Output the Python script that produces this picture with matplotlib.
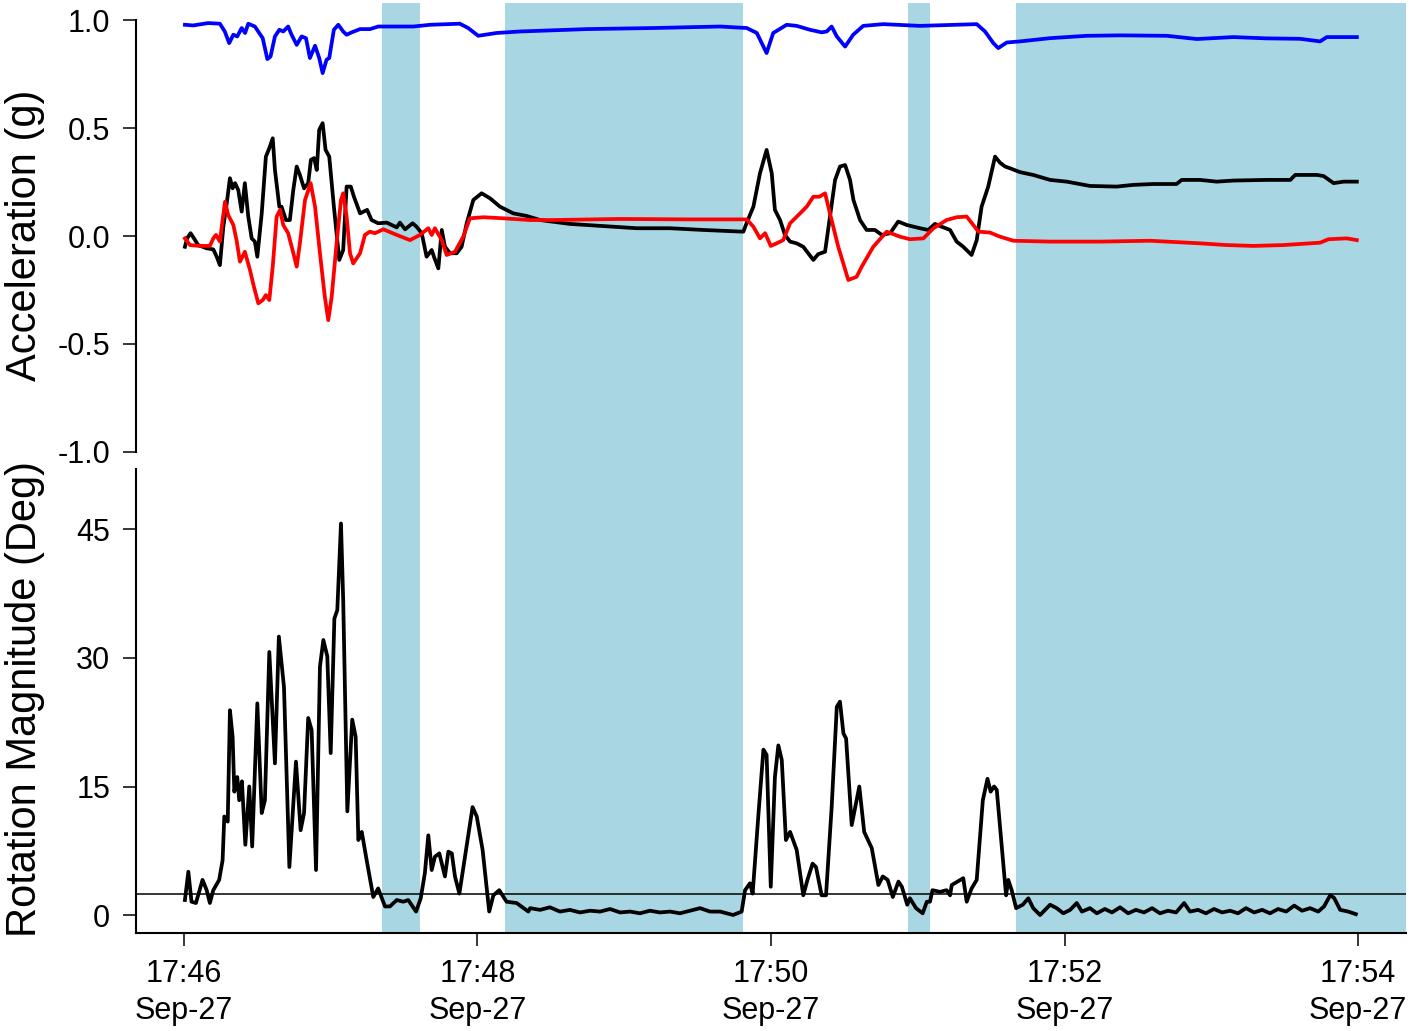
import matplotlib
matplotlib.use("Agg")
import matplotlib.pyplot as plt

plt.rcParams['font.family'] = ['Liberation Sans', 'DejaVu Sans']

# ---- data (time in seconds after 17:46:00, Sep-27) ----
blue_t = [0.4, 3.8, 9.9, 14.7, 16.7, 18.5, 20.2, 21.8, 23.6, 25.0, 26.3, 29.0, 32.2, 34.1, 35.4, 37.2,
          39.0, 40.6, 42.6, 44.0, 46.1, 48.1, 49.9, 51.5, 53.6, 55.3, 56.7, 58.3, 59.4, 61.3, 63.1,
          65.1, 66.5, 68.6, 72.0, 76.1, 79.4, 93.8, 100.6, 112.8, 116.2, 120.3, 127.8, 137.4, 164.6,
          191.9, 219.2, 230.1, 234.2, 238.2, 240.9, 246.4, 250.5, 255.9, 260.7, 262.8, 264.8, 266.9,
          270.3, 273.6, 277.7, 285.9, 300.9, 324.1, 327.5, 330.9, 332.9, 336.4, 341.8, 354.1, 369.1,
          382.7, 401.8, 414.1, 429.0, 442.7, 456.3, 464.5, 467.2, 479.5]
blue_v = [0.979, 0.976, 0.987, 0.984, 0.948, 0.894, 0.933, 0.925, 0.964, 0.941, 0.984, 0.971, 0.917,
          0.820, 0.832, 0.925, 0.956, 0.948, 0.971, 0.933, 0.886, 0.925, 0.917, 0.825, 0.882, 0.825,
          0.755, 0.817, 0.825, 0.956, 0.979, 0.948, 0.933, 0.944, 0.959, 0.959, 0.971, 0.971, 0.979,
          0.984, 0.964, 0.928, 0.941, 0.948, 0.959, 0.964, 0.971, 0.964, 0.941, 0.848, 0.941, 0.979,
          0.974, 0.956, 0.944, 0.948, 0.971, 0.925, 0.878, 0.933, 0.974, 0.982, 0.974, 0.982, 0.948,
          0.894, 0.871, 0.897, 0.902, 0.917, 0.928, 0.930, 0.928, 0.913, 0.922, 0.916, 0.914, 0.902,
          0.922, 0.922]

black_t = [0.4, 1.3, 2.7, 4.1, 5.8, 9.3, 12.0, 13.4, 14.7, 16.1, 17.5, 18.8, 19.9, 20.9, 22.2, 23.6,
           24.9, 26.3, 27.7, 29.0, 30.0, 31.8, 33.5, 34.9, 36.3, 37.2, 39.0, 39.9, 41.7, 43.3, 44.7,
           46.1, 47.4, 49.1, 50.8, 51.9, 53.2, 54.3, 55.3, 56.7, 57.9, 59.4, 61.3, 63.5, 65.1, 66.5,
           68.2, 69.5, 72.0, 74.9, 76.7, 79.4, 82.9, 87.0, 88.3, 90.4, 93.5, 95.1, 97.2, 99.2, 101.3,
           102.2, 104.0, 105.4, 106.7, 108.8, 111.5, 113.5, 115.6, 118.3, 121.7, 125.1, 129.2, 134.6,
           140.1, 145.6, 157.8, 171.4, 185.1, 198.7, 212.3, 228.7, 230.1, 232.8, 235.5, 238.2, 240.3,
           241.6, 243.7, 245.7, 247.8, 250.5, 253.2, 255.2, 257.3, 259.3, 262.1, 264.1, 266.2, 268.2,
           270.3, 272.3, 273.7, 276.4, 279.1, 282.5, 285.3, 288.7, 292.0, 295.5, 300.9, 304.3, 307.0,
           309.8, 313.2, 315.9, 318.6, 322.0, 324.1, 326.1, 328.8, 331.6, 333.6, 335.7, 337.7, 341.8,
           347.2, 354.1, 360.9, 370.4, 381.3, 388.1, 396.3, 405.8, 407.9, 415.4, 422.2, 429.0, 442.7,
           452.3, 454.3, 463.2, 465.9, 470.0, 474.1, 479.5]
black_v = [-0.050, -0.011, 0.013, -0.011, -0.042, -0.057, -0.062, -0.096, -0.135, 0.043, 0.152, 0.268,
           0.221, 0.245, 0.213, 0.113, 0.245, 0.090, -0.011, -0.026, -0.096, 0.105, 0.368, 0.407,
           0.453, 0.306, 0.136, 0.136, 0.074, 0.074, 0.213, 0.322, 0.283, 0.221, 0.245, 0.353, 0.361,
           0.306, 0.492, 0.523, 0.399, 0.368, 0.136, -0.111, -0.065, 0.229, 0.229, 0.182, 0.105, 0.121,
           0.074, 0.059, 0.062, 0.040, 0.062, 0.031, 0.059, 0.043, 0.013, -0.096, -0.065, -0.096,
           -0.150, 0.028, -0.050, -0.080, -0.080, -0.050, 0.059, 0.167, 0.198, 0.175, 0.136, 0.105,
           0.093, 0.074, 0.056, 0.046, 0.036, 0.036, 0.028, 0.020, 0.062, 0.136, 0.291, 0.399, 0.291,
           0.121, 0.074, 0.005, -0.026, -0.034, -0.050, -0.080, -0.111, -0.084, -0.073, 0.090, 0.260,
           0.322, 0.329, 0.260, 0.167, 0.074, 0.028, 0.028, 0.005, 0.013, 0.067, 0.051, 0.036, 0.028,
           0.056, 0.043, 0.028, -0.026, -0.050, -0.088, -0.019, 0.136, 0.229, 0.368, 0.340, 0.322,
           0.314, 0.296, 0.283, 0.260, 0.252, 0.232, 0.229, 0.237, 0.241, 0.241, 0.260, 0.260, 0.252,
           0.257, 0.260, 0.260, 0.283, 0.283, 0.278, 0.245, 0.252, 0.252]

red_t = [0.4, 2.5, 6.5, 10.6, 12.0, 13.1, 14.7, 15.8, 16.8, 18.1, 20.2, 21.5, 22.9, 24.9, 27.0, 28.6,
         30.4, 32.2, 33.5, 34.9, 36.3, 37.9, 39.3, 40.6, 42.6, 44.4, 46.1, 47.4, 49.5, 51.8, 53.6,
         55.6, 57.6, 59.0, 60.4, 62.4, 64.2, 65.1, 66.5, 67.9, 69.2, 72.0, 74.0, 76.0, 78.1, 81.5,
         87.0, 92.4, 96.5, 99.9, 101.3, 102.6, 105.4, 107.4, 110.8, 114.2, 116.9, 122.4, 130.5, 141.5,
         151.0, 178.3, 205.5, 230.1, 232.8, 235.5, 237.6, 239.9, 242.3, 245.0, 247.8, 251.9, 254.6,
         257.3, 259.8, 262.1, 264.1, 267.5, 271.6, 275.0, 277.1, 281.8, 287.3, 292.7, 296.8, 302.3,
         306.4, 311.8, 315.9, 320.0, 322.7, 324.8, 329.5, 333.6, 339.1, 354.1, 374.5, 395.0, 415.4,
         426.3, 437.2, 449.5, 464.5, 467.9, 475.4, 479.5]
red_v = [-0.011, -0.042, -0.046, -0.046, -0.011, 0.005, -0.026, 0.074, 0.159, 0.097, 0.051, -0.019,
         -0.119, -0.073, -0.158, -0.235, -0.312, -0.297, -0.274, -0.297, -0.142, 0.090, 0.121, 0.051,
         0.013, -0.065, -0.142, -0.034, 0.167, 0.245, 0.136, -0.080, -0.282, -0.390, -0.282, -0.034,
         0.167, 0.198, 0.090, -0.080, -0.127, -0.080, 0.005, 0.020, 0.013, 0.031, 0.005, -0.019,
         0.005, 0.036, 0.005, 0.036, -0.019, -0.088, -0.073, -0.003, 0.082, 0.087, 0.082, 0.074,
         0.074, 0.079, 0.077, 0.077, 0.043, -0.011, 0.013, -0.046, -0.034, -0.019, 0.059, 0.105,
         0.136, 0.182, 0.182, 0.198, 0.105, -0.050, -0.204, -0.189, -0.142, -0.050, 0.020, -0.003,
         -0.015, -0.011, 0.036, 0.074, 0.087, 0.090, 0.051, 0.020, 0.016, -0.003, -0.022, -0.026,
         -0.026, -0.022, -0.034, -0.042, -0.046, -0.042, -0.031, -0.015, -0.011, -0.019]

rot_t = [0.4, 1.8, 3.1, 4.9, 7.6, 9.3, 10.6, 12.0, 14.4, 15.8, 16.5, 17.9, 18.8, 19.9, 20.6, 21.8,
         22.6, 23.7, 25.1, 26.7, 27.9, 30.0, 31.8, 33.1, 34.9, 37.2, 38.8, 40.9, 43.1, 45.8, 47.7,
         49.1, 50.8, 52.2, 54.0, 55.6, 57.0, 58.6, 60.0, 61.5, 62.7, 64.2, 65.1, 66.8, 68.8, 70.2,
         71.3, 72.7, 74.7, 77.4, 79.4, 82.2, 84.2, 87.0, 89.7, 91.7, 94.9, 96.8, 98.5, 99.9, 101.3,
         102.6, 104.4, 106.7, 108.1, 109.5, 110.8, 112.6, 114.9, 118.0, 119.7, 122.1, 124.8, 126.5,
         128.9, 131.9, 136.0, 140.8, 141.5, 145.6, 149.6, 153.7, 157.8, 161.9, 166.0, 170.1, 174.2,
         178.3, 182.4, 186.4, 190.5, 194.6, 198.7, 202.8, 206.9, 211.0, 215.1, 219.2, 224.5, 228.0,
         229.4, 231.4, 232.5, 234.8, 236.9, 238.2, 239.9, 241.6, 243.0, 244.4, 246.1, 247.8, 250.5,
         253.2, 254.9, 257.0, 258.4, 260.7, 262.5, 264.8, 266.9, 268.2, 269.6, 270.7, 273.0, 276.1,
         278.1, 281.2, 283.9, 285.7, 287.7, 289.8, 292.1, 293.5, 295.7, 296.8, 299.3, 302.0, 303.7,
         305.0, 306.0, 309.1, 311.8, 313.2, 313.9, 318.6, 320.0, 322.0, 324.1, 326.6, 328.5, 329.8,
         331.2, 332.3, 336.1, 337.0, 338.4, 340.2, 342.9, 345.2, 347.2, 350.0, 354.1, 356.8, 359.5,
         362.3, 365.0, 367.1, 370.4, 373.2, 376.5, 379.4, 382.7, 386.0, 389.2, 392.5, 395.8, 399.0,
         402.3, 405.6, 408.9, 411.3, 414.6, 417.8, 421.1, 424.4, 427.7, 430.9, 434.2, 437.5, 440.8,
         444.0, 447.3, 450.6, 453.9, 457.1, 460.4, 463.7, 466.1, 468.6, 470.2, 472.7, 476.0, 479.1]
rot_v = [1.75, 5.05, 1.55, 1.4, 4.1, 2.9, 1.4, 2.9, 4.1, 6.4, 11.5, 10.9, 23.9, 20.8, 14.4, 16.1,
         13.4, 15.6, 8.2, 15.0, 8.0, 24.7, 11.9, 13.4, 30.7, 17.7, 32.5, 26.6, 5.6, 17.9, 9.9, 11.9,
         23.0, 21.6, 5.25, 29.0, 32.1, 30.2, 18.9, 34.6, 35.6, 45.7, 36.8, 12.1, 22.8, 20.8, 8.75,
         9.7, 6.4, 2.1, 3.1, 1.0, 1.0, 1.75, 1.55, 1.75, 0.4, 1.95, 4.9, 9.3, 5.25, 6.8, 7.2, 4.5,
         7.4, 7.2, 4.5, 2.5, 6.8, 12.6, 11.5, 7.6, 0.4, 2.3, 2.9, 1.55, 1.4, 0.4, 0.8, 0.6, 0.9, 0.4,
         0.6, 0.3, 0.5, 0.4, 0.7, 0.3, 0.4, 0.2, 0.5, 0.3, 0.4, 0.2, 0.5, 0.8, 0.4, 0.4, 0.0, 0.4,
         2.9, 3.7, 2.5, 11.5, 19.3, 18.7, 3.3, 16.1, 19.8, 18.1, 8.75, 9.7, 7.6, 2.3, 4.1, 6.0, 5.6,
         2.3, 2.3, 12.6, 24.3, 24.9, 21.2, 20.6, 10.5, 15.0, 9.7, 7.8, 3.5, 4.5, 4.1, 2.1, 3.9, 3.3,
         1.2, 1.95, 0.8, 0.2, 1.55, 1.55, 2.9, 2.7, 2.9, 2.3, 3.5, 4.3, 1.55, 3.1, 4.1, 13.4, 15.9,
         14.4, 15.0, 14.6, 2.3, 4.1, 2.9, 0.8, 1.2, 1.95, 0.8, 0.0, 1.2, 0.8, 0.2, 0.6, 1.4, 0.4,
         0.8, 0.2, 0.7, 0.3, 0.9, 0.2, 0.6, 0.3, 0.8, 0.2, 0.5, 0.3, 1.4, 0.4, 0.6, 0.2, 0.7, 0.3,
         0.5, 0.2, 0.8, 0.3, 0.6, 0.2, 0.7, 0.4, 1.1, 0.5, 0.8, 0.4, 1.0, 2.3, 2.0, 0.6, 0.4, 0.1]

rot_threshold = 2.5
shade_start = [81.0, 131.2, 296.0, 340.2]
shade_end = [96.5, 228.6, 305.0, 499.6]

xtick_pos = [0, 120, 240, 360, 480]
xtick_labels = ["17:46\nSep-27", "17:48\nSep-27", "17:50\nSep-27", "17:52\nSep-27", "17:54\nSep-27"]
acc_ticks = [-1.0, -0.5, 0.0, 0.5, 1.0]
acc_tick_labels = ["-1.0", "-0.5", "0.0", "0.5", "1.0"]
rot_ticks = [0, 15, 30, 45]

# ---- figure ----
W, H = 1416, 1031
fig = plt.figure(figsize=(W / 100, H / 100), dpi=100)
left = 136 / W
right = 1406 / W
ax1 = fig.add_axes([left, 1 - 469 / H, right - left, (469 - 3) / H])
ax2 = fig.add_axes([left, 1 - 933 / H, right - left, (933 - 469) / H], sharex=ax1)

shade_color = "#a8d6e3"
lw = 2.7
for ax in (ax1, ax2):
    for s, e in zip(shade_start, shade_end):
        ax.axvspan(s, e, color=shade_color, lw=0, zorder=0)
    ax.set_facecolor("none")
    for sp in ("top", "right"):
        ax.spines[sp].set_visible(False)
    ax.spines["left"].set_linewidth(1.5)
    ax.spines["bottom"].set_linewidth(1.5)
    ax.tick_params(axis="both", direction="out", length=9.5, width=1.1, pad=9, labelsize=22)

ax1.plot(blue_t, blue_v, color="#0000ff", lw=lw, zorder=3, solid_joinstyle="round")
ax1.plot(black_t, black_v, color="black", lw=lw, zorder=3, solid_joinstyle="round")
ax1.plot(red_t, red_v, color="#ff0000", lw=lw, zorder=4, solid_joinstyle="round")
ax1.set_ylim(-1.08, 1.08)
ax1.set_yticks(acc_ticks)
ax1.set_yticklabels(acc_tick_labels)
ax1.spines["bottom"].set_visible(False)
ax1.spines["left"].set_bounds(-1.0, 1.0)
ax1.tick_params(axis="x", bottom=False, labelbottom=False)

ax2.plot(rot_t, rot_v, color="black", lw=lw, zorder=3, solid_joinstyle="round")
ax2.axhline(rot_threshold, color="black", lw=1.1, zorder=4)
ax2.set_ylim(-2.1, 52.06)
ax2.set_yticks(rot_ticks)
ax2.set_xlim(-19.6, 499.6)
ax2.set_xticks(xtick_pos)
ax2.set_xticklabels(xtick_labels, linespacing=1.3)

fig.text(25 / W, 1 - 235 / H, "Acceleration (g)", rotation=90, ha="center", va="center", fontsize=30)
fig.text(25 / W, 1 - 699 / H, "Rotation Magnitude (Deg)", rotation=90, ha="center", va="center", fontsize=30)

fig.savefig("out.png", dpi=100, facecolor="white")
